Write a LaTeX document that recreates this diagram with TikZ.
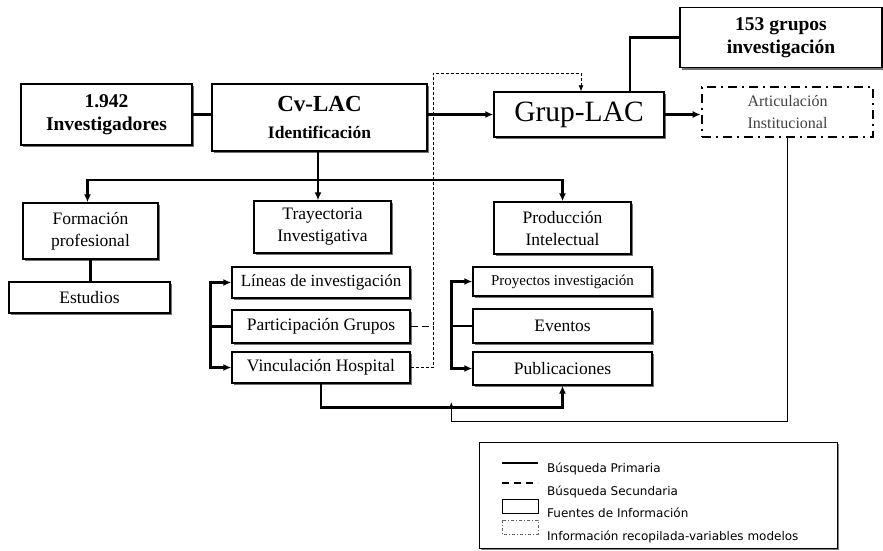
\documentclass[tikz,border=0pt]{standalone}
\usepackage{fontspec}
\setmainfont{Liberation Serif}
\newfontfamily\legfont{DejaVu Sans}
\usetikzlibrary{arrows.meta, shadows, calc}
\tikzset{
    src/.style={draw, line width=1.4pt, fill=white, inner sep=0pt, align=center,
      drop shadow={shadow xshift=2pt, shadow yshift=-2pt, fill=black!55, opacity=1}},
    txt/.style={font=\fontsize{17.5}{22}\selectfont},
    big/.style={font=\fontsize{19.5}{23}\selectfont\bfseries},
    recop/.style={draw, line width=2.6pt, dash pattern=on 9pt off 5pt on 2pt off 5pt,
      inner sep=0pt, align=center, text=black!75, font=\fontsize{16}{22}\selectfont},
    prim/.style={line width=2.6pt},
    sec/.style={dash pattern=on 3pt off 2pt, line width=0.8pt},
    tip/.tip={Latex[length=8pt, width=7pt]},
}

\begin{document}
\begin{tikzpicture}[x=1pt, y=-1pt]
  \useasboundingbox (0,0) rectangle (883,550);
  \node [src, big, minimum width=171pt, minimum height=61pt] (inv) at (106.5,114.5) {1.942\\Investigadores};
  \node [src, minimum width=215pt, minimum height=67pt, font=\fontsize{23}{27}\selectfont] (cv) at (319.5,117.5)
    {\textbf{Cv-LAC}\\{\fontsize{17.5}{19}\selectfont\textbf{Identificación}}};
  \node [src, minimum width=170pt, minimum height=45pt, font=\fontsize{29.5}{31}\selectfont] (grup) at (579,114.5) {Grup-LAC};
  \node [src, big, minimum width=202pt, minimum height=60pt] (gru) at (781,37.5) {153 grupos\\investigación};
  \node [recop, minimum width=171pt, minimum height=50pt] (art) at (787.5,112) {Articulación\\Institucional};

  \node [src, txt, minimum width=135pt, minimum height=56pt] (form) at (90.5,231) {Formación\\profesional};
  \node [src, txt, minimum width=161pt, minimum height=31pt] (est) at (89.5,297.5) {Estudios};
  \node [src, txt, minimum width=137pt, minimum height=52pt] (tray) at (322.5,227) {Trayectoria\\Investigativa};
  \node [src, minimum width=178pt, minimum height=31pt, font=\fontsize{17}{20}\selectfont] (lin) at (321,282.5) {Líneas de investigación};
  \node [src, txt, minimum width=178pt, minimum height=33pt] (part) at (321,326.5) {Participación Grupos};
  \node [src, txt, minimum width=178pt, minimum height=31pt] (vinc) at (321,367.5) {Vinculación Hospital};
  \node [src, txt, minimum width=137pt, minimum height=52pt] (prod) at (562.5,228) {Producción\\Intelectual};
  \node [src, minimum width=179pt, minimum height=29pt, font=\fontsize{15}{18}\selectfont] (proy) at (562.5,281.5) {Proyectos investigación};
  \node [src, txt, minimum width=179pt, minimum height=34pt] (evt) at (562.5,326) {Eventos};
  \node [src, txt, minimum width=179pt, minimum height=33pt] (pub) at (562.5,368.5) {Publicaciones};

  \coordinate (hub) at (318,180);
  \coordinate (lb) at ([xshift=-21pt]part.west);
  \coordinate (rb) at ([xshift=-21pt]evt.west);
  \coordinate (dv) at (433,73);
  \coordinate (feed) at (rb |- 0,402);

  \draw [prim] (inv.east) -- (inv.east -| cv.west);
  \draw [prim, -tip] (cv.east |- grup) -- (grup.west);
  \draw [prim, -tip] (grup.east) -- (grup.east -| art.west);
  \draw [prim] ([xshift=51pt]grup.north) |- (gru.west);
  \draw [prim] (cv.south -| hub) -- (hub);
  \draw [prim, -tip] (hub) -| ([xshift=-3pt]form.north);
  \draw [prim, -tip] (hub) -| (prod.north);
  \draw [prim, -tip] (hub) -- (hub |- tray.north);
  \draw [prim] (form.south) -- (form.south |- est.north);

  \draw [prim] (part.west) -- (lb);
  \draw [prim, -tip] (lb) |- (lin.west);
  \draw [prim, -tip] (lb) |- (vinc.west);
  \draw [prim] (evt.west) -- (rb);
  \draw [prim, -tip] (rb) |- (proy.west);
  \draw [prim, -tip] (rb) |- (pub.west);
  \draw [prim, -tip] (vinc.south) -- ++(0,24) -| (pub.south);

  \draw [line width=1.4pt, dash pattern=on 7pt off 4pt] (part.east) -- (part.east -| dv);
  \draw [sec, -{Latex[length=6pt, width=5pt]}] (vinc.east) -- (vinc.east -| dv) -- (dv) -| ([xshift=2pt]grup.north);
  \draw [line width=1pt, -{Latex[length=6pt, width=5pt]}] (art.south) -- (art.south |- 0,421) -| (feed);

  \begin{scope}[font=\legfont\fontsize{12}{14}\selectfont]
    \draw [line width=0.9pt, fill=white, drop shadow={shadow xshift=1.5pt, shadow yshift=-1.5pt, fill=black!50, opacity=1}]
      (479,442) rectangle (837,548);
    \draw [line width=2pt] (502,463) -- (538,463);
    \draw [line width=1.3pt, dash pattern=on 7pt off 5pt] (502,483) -- (538,483);
    \draw [line width=0.9pt] (502,499) rectangle (538,513);
    \draw [line width=0.6pt, black!60, dash pattern=on 3pt off 2pt on 1pt off 2pt] (502,520) rectangle (538,534);
    \node [anchor=west, inner sep=0pt] (l1) at (547,469) {Búsqueda Primaria};
    \node [anchor=west, inner sep=0pt] (l2) at (547,492) {Búsqueda Secundaria};
    \node [anchor=west, inner sep=0pt] (l3) at (547,513) {Fuentes de Información};
    \node [anchor=west, inner sep=0pt] (l4) at (547,537) {Información recopilada-variables modelos};
  \end{scope}
\end{tikzpicture}
\end{document}
